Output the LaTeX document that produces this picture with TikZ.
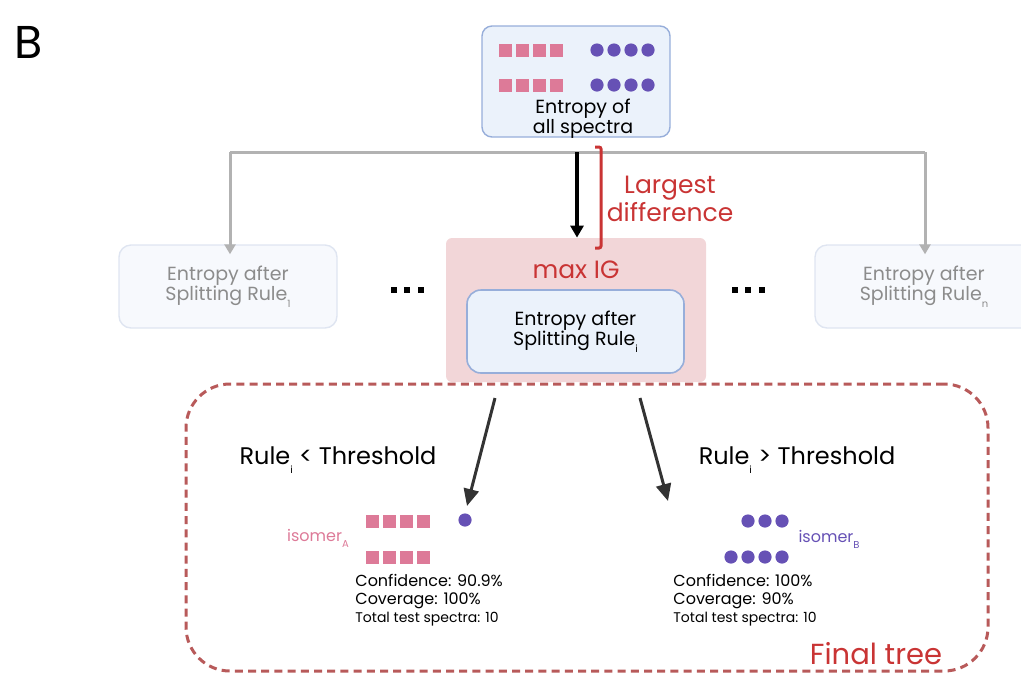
\documentclass[tikz,border=0pt]{standalone}
\usepackage{fontspec}
\setmainfont{Poppins}
\usetikzlibrary{arrows.meta,positioning,shapes}
\definecolor{pinkA}{HTML}{DD7A98}
\definecolor{purpB}{HTML}{6651B5}
\definecolor{igred}{HTML}{C93434}
\definecolor{treered}{HTML}{B85A5A}
\definecolor{boxfill}{HTML}{EBF2FB}
\definecolor{boxedge}{HTML}{97AEDA}
\definecolor{igfill}{HTML}{F2D6D8}
\definecolor{fadefill}{HTML}{F7F9FD}
\definecolor{fadeedge}{HTML}{DFE5F1}
\definecolor{forkgray}{HTML}{B2B2B2}
\definecolor{arrowdark}{HTML}{333333}
\newcommand{\lowsub}[1]{\raisebox{-0.7ex}{\fontsize{5}{5}\selectfont #1}}

\begin{document}
\begin{tikzpicture}[
  x=0.5pt,
  y=-0.5pt,
  every node/.style={font=\fontsize{9.5}{10}\selectfont},
  spectrabox/.style={draw=boxedge, fill=boxfill, line width=0.7pt, rounded corners=5pt, minimum width=94pt, minimum height=55.5pt},
  fadebox/.style={draw=fadeedge, fill=fadefill, line width=0.7pt, rounded corners=6pt, minimum width=109pt, minimum height=41.5pt},
  rulebox/.style={draw=boxedge, fill=boxfill, line width=0.8pt, rounded corners=7pt, minimum width=108.5pt, minimum height=41.5pt},
  igbox/.style={fill=igfill, rounded corners=3pt, minimum width=130pt, minimum height=72pt},
  treebox/.style={draw=treered, dash pattern=on 4pt off 2.6pt, line width=1.5pt, rounded corners=22pt, minimum width=401pt, minimum height=143.5pt},
  sq/.style={rectangle, fill=pinkA, minimum size=6.5pt, inner sep=0pt},
  dot/.style={circle, fill=purpB, minimum size=6.6pt, inner sep=0pt},
  ellip/.style={rectangle, fill=black, minimum size=2.6pt, inner sep=0pt},
  boxtext/.style={align=center, font=\fontsize{9.5}{10}\selectfont},
  fadetext/.style={boxtext, text=black!45},
  redlabel/.style={text=igred, align=center, font=\fontsize{12.5}{12.5}\selectfont},
  condition/.style={font=\fontsize{12}{12}\selectfont},
  stats/.style={align=left, anchor=west, inner sep=0pt, font=\fontsize{8}{9}\selectfont},
  fork/.style={draw=forkgray, line width=1.5pt},
  forkarrow/.style={fork, -{Triangle[length=5pt,width=5.5pt]}},
  mainarrow/.style={line width=1.6pt, -{Triangle[length=6pt,width=6.5pt]}},
  splitarrow/.style={draw=arrowdark, line width=1.5pt, -{Triangle[length=8.5pt,width=7.5pt]}}
]
\useasboundingbox (0,0) rectangle (1021,676);

\node[font=\fontsize{23}{23}\selectfont] (panel) at (29,42) {B};

% root: all spectra
\node[spectrabox] (allbox) at (576,81.5) {};
\foreach \i/\xx in {1/505,2/522,3/539,4/556} {
  \node[sq] (topA\i) at (\xx,50) {};
  \node[sq] (botA\i) at (\xx,85) {};
}
\foreach \i/\xx in {1/597,2/614,3/631,4/648} {
  \node[dot] (topB\i) at (\xx,50) {};
  \node[dot] (botB\i) at (\xx,85) {};
}
\node[boxtext] (alltxt) at (583,119) {Entropy of\\all spectra};

% candidate rules
\coordinate (fl) at (230,152);
\coordinate (fr) at (925,152);
\coordinate (fork) at (577,152);
\node[fadebox] (rule1) at (228,286.5) {};
\node[fadetext] at (228,286.5) {Entropy after\\Splitting Rule\lowsub{1}};
\node[fadebox] (rulen) at (924,286.5) {};
\node[fadetext] at (924,286.5) {Entropy after\\Splitting Rule\lowsub{n}};
\node[igbox] (maxig) at (576,310) {};
\node[redlabel] (iglabel) at (576,270) {max IG};
\node[rulebox] (rulei) at (575.5,331.5) {};
\node[boxtext] at (575.5,331.5) {Entropy after\\Splitting Rule\lowsub{i}};
\foreach \j/\xx in {1/394,2/407,3/421} \node[ellip] (dl\j) at (\xx,290) {};
\foreach \j/\xx in {1/735,2/748,3/762} \node[ellip] (dr\j) at (\xx,290) {};

\draw[fork] (fl) -- (fr);
\draw[forkarrow] (fl) -- ([yshift=-5pt]fl |- rule1.north);
\draw[forkarrow] (fr) -- ([yshift=-5pt]fr |- rulen.north);
\draw[mainarrow] (fork) -- (fork |- maxig.north);

% largest difference bracket
\draw[igred, line width=1.5pt, rounded corners=1pt] (595,147) -- (601,147) -- (601,248) -- (595,248);
\node[redlabel] (diff) at (670,199) {Largest\\difference};

% final tree
\node[treebox] (final) at (587,527.5) {};
\node[redlabel, font=\fontsize{14.5}{14.5}\selectfont] (finallabel) at (876,654) {Final tree};
\coordinate (lstart) at (495,398);
\coordinate (ltip) at (467,506);
\coordinate (rstart) at (640,398);
\coordinate (rtip) at (668,501);
\draw[splitarrow] (lstart) -- (ltip);
\draw[splitarrow] (rstart) -- (rtip);
\node[condition] (condl) at (338,460) {Rule\lowsub{i} < Threshold};
\node[condition] (condr) at (797,460) {Rule\lowsub{i} > Threshold};

% left leaf
\foreach \i/\xx in {1/372,2/389,3/406,4/423} {
  \node[sq] (lfA\i) at (\xx,521) {};
  \node[sq] (lfB\i) at (\xx,557) {};
}
\node[dot] (lfdot) at (465,520) {};
\node[text=pinkA, font=\fontsize{8}{8}\selectfont] (isoA) at (318,538) {isomer\lowsub{A}};
\node[stats] (statl) at (355,600) {Confidence: 90.9\%\\Coverage: 100\%\\{\fontsize{7}{8}\selectfont Total test spectra: 10}};

% right leaf
\foreach \i/\xx in {1/748,2/765,3/782} \node[dot] (rtA\i) at (\xx,521) {};
\foreach \i/\xx in {1/731,2/748,3/765,4/782} \node[dot] (rtB\i) at (\xx,557) {};
\node[text=purpB, font=\fontsize{8}{8}\selectfont] (isoB) at (829,539) {isomer\lowsub{B}};
\node[stats] (statr) at (673,600) {Confidence: 100\%\\Coverage: 90\%\\{\fontsize{7}{8}\selectfont Total test spectra: 10}};
\end{tikzpicture}
\end{document}
